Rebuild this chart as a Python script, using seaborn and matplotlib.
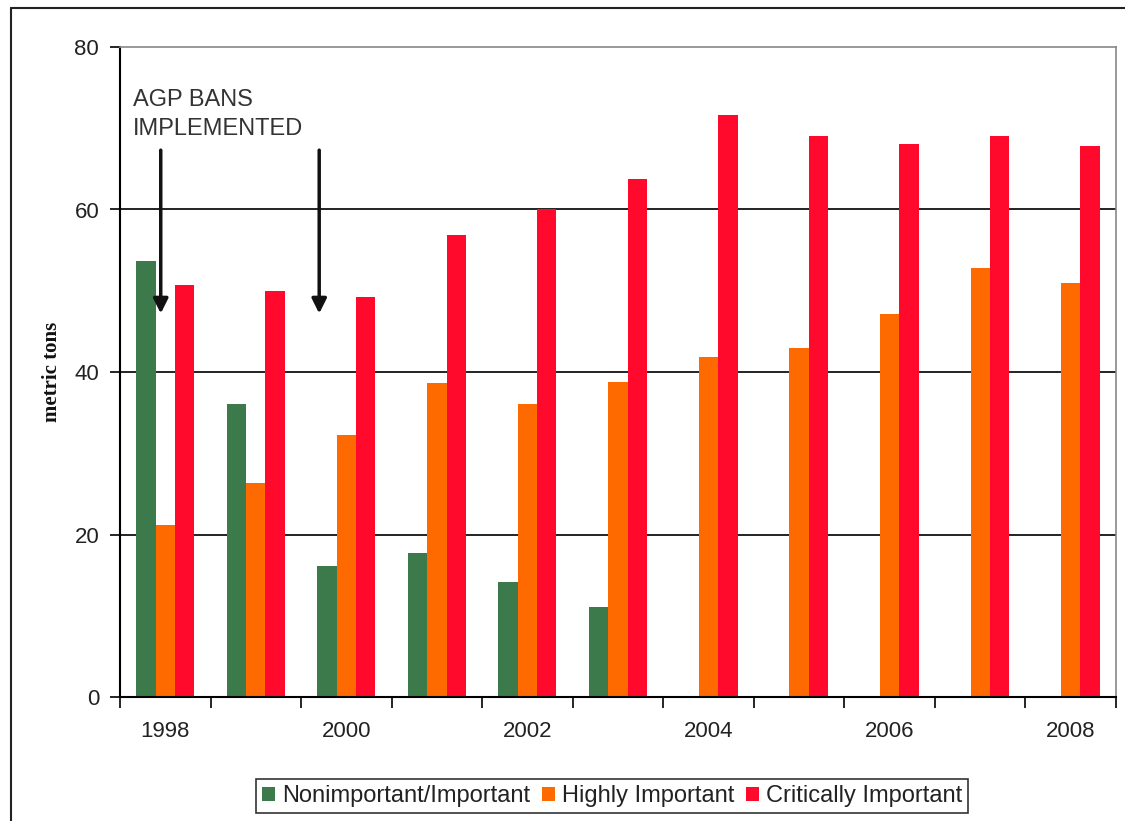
import numpy as np
import pandas as pd
import matplotlib
matplotlib.use("Agg")
import matplotlib.pyplot as plt
from matplotlib.lines import Line2D
from matplotlib.patches import Patch
from matplotlib.font_manager import FontProperties
import seaborn as sns

years = ["1998", "1999", "2000", "2001", "2002", "2003", "2004", "2005", "2006", "2007", "2008"]
nonimportant = [53.6, 36.1, 16.1, 17.7, 14.2, 11.1, np.nan, np.nan, np.nan, np.nan, np.nan]
highly = [21.2, 26.3, 32.2, 38.7, 36.1, 38.8, 41.8, 43.0, 47.1, 52.8, 51.0]
critically = [50.7, 50.0, 49.2, 56.9, 60.0, 63.7, 71.6, 69.0, 68.0, 69.0, 67.8]
series_names = ["Nonimportant/Important", "Highly Important", "Critically Important"]
colors = ["#3c7a4b", "#ff6a00", "#ff0a2c"]
year_labels = ["1998", "2000", "2002", "2004", "2006", "2008"]
yticks = [0, 20, 40, 60, 80]

df = pd.DataFrame({
    "year": years * 3,
    "value": nonimportant + highly + critically,
    "series": [series_names[0]] * 11 + [series_names[1]] * 11 + [series_names[2]] * 11,
})

sns.set_theme(style="white")
plt.rcParams["font.family"] = ["Liberation Sans", "DejaVu Sans"]

fig = plt.figure(figsize=(11.25, 8.21), dpi=100)
ax = fig.add_axes([120 / 1125, 1 - 697 / 821, (1116 - 120) / 1125, (697 - 47) / 821])

sns.barplot(data=df, x="year", y="value", hue="series", hue_order=series_names,
            order=years, palette=colors, width=0.64, saturation=1, ax=ax,
            legend=False, edgecolor="none", linewidth=0)

ax.set_xlim(-0.5, 10.5)
ax.set_ylim(0, 80)
ax.set_yticks(yticks)
ax.set_yticklabels([str(v) for v in yticks], fontsize=16, color="#222222")
ax.tick_params(axis="y", direction="out", length=7, width=1.2, color="black", pad=8, left=True)

# x tick marks at group boundaries, labels at every other group
ax.set_xticks(np.arange(-0.5, 11.0, 1.0))
ax.set_xticklabels([""] * 12)
ax.tick_params(axis="x", which="major", direction="out", length=8, width=1.2, color="black", bottom=True)
ax.set_xticks(np.arange(0, 11, 2), minor=True)
ax.set_xticklabels(year_labels, minor=True, fontsize=16, color="#222222")
ax.tick_params(axis="x", which="minor", length=0, pad=17)

ax.set_xlabel("")
ax.set_ylabel("metric tons", fontproperties=FontProperties(family="Liberation Serif",
              weight="bold", size=15), color="#111111")
ax.yaxis.set_label_coords(-58 / 996, 0.5)

for v in [20, 40, 60]:
    ax.axhline(v, color="#111111", lw=1.3, zorder=0.5)
ax.set_axisbelow(True)

for side in ["left", "bottom"]:
    ax.spines[side].set_color("black")
    ax.spines[side].set_linewidth(1.5)
for side in ["top", "right"]:
    ax.spines[side].set_color("#888888")
    ax.spines[side].set_linewidth(1.2)

ax.text(-0.36, 74.8, "AGP BANS\nIMPLEMENTED", fontsize=17, color="#333333",
        va="top", ha="left", linespacing=1.4)
for xa in [-0.05, 1.70]:
    ax.annotate("", xy=(xa, 47.2), xytext=(xa, 67.3),
                arrowprops=dict(arrowstyle="-|>", lw=2.5, color="#111111", mutation_scale=22,
                                shrinkA=0, shrinkB=0))

handles = [Patch(facecolor=c, edgecolor="none") for c in colors]
leg = fig.legend(handles, series_names, loc="center", bbox_to_anchor=(612 / 1125, 1 - 796 / 821),
                 ncol=3, fontsize=17, frameon=True, fancybox=False, edgecolor="black",
                 handlelength=0.55, handleheight=0.55, handletextpad=0.3, columnspacing=0.5,
                 borderpad=0.25, borderaxespad=0, labelcolor="#222222")
leg.get_frame().set_linewidth(1.2)

# chart-area border (top and left visible)
fig.add_artist(Line2D([11 / 1125, 1.0], [1 - 8 / 821, 1 - 8 / 821], transform=fig.transFigure,
                      color="#222222", lw=1.5))
fig.add_artist(Line2D([11 / 1125, 11 / 1125], [0.0, 1 - 8 / 821], transform=fig.transFigure,
                      color="#222222", lw=1.5))

fig.savefig("out.png", dpi=100, facecolor="white")
